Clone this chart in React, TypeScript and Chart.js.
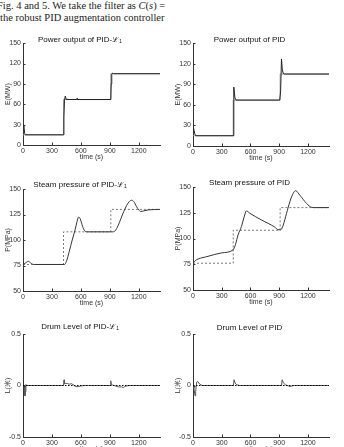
import React, { useEffect, useRef } from "react";
import { Chart, registerables } from "chart.js";

Chart.register(...registerables);

const FONT = "'Liberation Sans', Arial, Helvetica, sans-serif";

// ---------- data ----------
const xTicks = [0, 300, 600, 900, 1200];
const powerTicks = [0, 30, 60, 90, 120, 150];
const pressureTicks = [50, 75, 100, 125, 150];
const levelTicks = [-0.5, 0, 0.5];

const setTime = [0, 420, 420, 910, 910, 1420];
const powerSet = [15, 15, 67, 67, 105, 105];
const pressureSet = [76, 76, 108, 108, 130, 130];
const levelSetTime = [0, 1420];
const levelSet = [0, 0];

const powerL1Time = [0, 10, 18, 24, 420, 424, 430, 438, 446, 456, 555, 560, 566, 910, 914, 920, 928, 940, 1420];
const powerL1 = [28, 27, 17, 15, 15, 40, 66, 72, 68, 67, 67, 68.5, 67, 67, 90, 104, 106, 105, 105];

const powerPidTime = [0, 8, 18, 28, 418, 424, 428, 438, 450, 905, 915, 924, 932, 942, 955, 1420];
const powerPid = [30, 30, 18, 15, 15, 60, 86, 70, 67, 67, 80, 127, 112, 106, 105, 105];

const pressureL1Time = [0, 20, 40, 58, 80, 110, 430, 450, 480, 510, 540, 560, 576, 592, 612, 632, 660, 700, 930, 955, 985, 1015, 1045, 1075, 1100, 1125, 1150, 1175, 1200, 1220, 1250, 1300, 1420];
const pressureL1 = [76, 77, 78.5, 79, 77.5, 76, 76, 79, 89, 100, 110, 118, 122.5, 121, 115, 110, 108, 108, 108, 109, 114, 121, 128, 134, 137.5, 139, 137.5, 133, 129.5, 128, 128.5, 129.5, 130];

const pressurePidTime = [0, 24, 52, 157, 297, 419, 443, 471, 506, 534, 558, 593, 715, 855, 889, 917, 942, 977, 1012, 1047, 1071, 1116, 1186, 1238, 1273, 1420];
const pressurePid = [76, 78.5, 80, 82.7, 86, 89, 94, 103.6, 111.7, 121, 126.8, 124.5, 118, 111, 108.5, 108.5, 113, 124.5, 136, 144, 146.4, 142, 134, 130.3, 130, 130];

const levelL1Time = [0, 15, 20, 25, 30, 40, 420, 425, 430, 440, 460, 480, 500, 520, 540, 560, 580, 600, 640, 680, 905, 910, 915, 925, 945, 975, 1000, 1020, 1040, 1060, 1100, 1420];
const levelL1 = [0, 0, -0.1, -0.06, 0.01, 0, 0, 0.055, 0.015, 0.02, 0.02, 0.012, 0.018, 0.008, -0.008, -0.012, -0.01, -0.004, 0, 0, 0, 0.045, 0.01, 0.005, 0, -0.01, -0.015, -0.012, -0.02, -0.008, 0, 0];

const levelPidTime = [0, 10, 21, 28, 38, 49, 70, 94, 422, 429, 440, 457, 488, 924, 931, 945, 966, 1012, 1036, 1064, 1420];
const levelPid = [0, -0.026, -0.1, -0.06, 0.033, 0.04, 0.013, 0, 0, 0.056, 0.023, 0.007, 0, 0, 0.056, 0.023, 0.007, -0.01, -0.003, 0, 0];

// ---------- helpers ----------
const pts = (t: number[], v: number[]) => t.map((x, i) => ({ x, y: v[i] }));

type Series = { t: number[]; v: number[]; color: string; dash?: number[]; smooth?: boolean; width?: number };
type PanelSpec = {
  title: string;
  yLabel: string;
  left: number;
  width: number;
  chartRight: number;
  chartTop: number;
  chartBottom: number;
  titlePad: number;
  yMin: number;
  yMax: number;
  yTicks: number[];
  series: Series[];
};

const inwardTicks = {
  id: "inwardTicks",
  afterDraw(chart: any) {
    const { ctx, chartArea, scales } = chart;
    ctx.save();
    ctx.strokeStyle = "#333";
    ctx.lineWidth = 1;
    ctx.beginPath();
    for (const t of scales.x.ticks) {
      const px = Math.round(scales.x.getPixelForValue(t.value)) + 0.5;
      ctx.moveTo(px, chartArea.bottom);
      ctx.lineTo(px, chartArea.bottom - 2.5);
    }
    for (const t of scales.y.ticks) {
      const py = Math.round(scales.y.getPixelForValue(t.value)) + 0.5;
      ctx.moveTo(chartArea.left, py);
      ctx.lineTo(chartArea.left + 2.5, py);
    }
    ctx.stroke();
    ctx.restore();
  },
};

function Panel({ p }: { p: PanelSpec }) {
  const ref = useRef<HTMLCanvasElement>(null);
  const canvasTop = p.chartTop - 6 - p.titlePad;
  const xAxisH = 16;
  const height = p.chartBottom - canvasTop + xAxisH;
  useEffect(() => {
    const chart = new Chart(ref.current as HTMLCanvasElement, {
      type: "line",
      data: {
        datasets: p.series.map((s) => ({
          data: pts(s.t, s.v),
          borderColor: s.color,
          borderWidth: s.width ?? 1,
          borderDash: s.dash ?? [],
          pointRadius: 0,
          fill: false,
          tension: 0,
          cubicInterpolationMode: s.smooth ? "monotone" : "default",
        })),
      },
      options: {
        animation: false,
        responsive: false,
        devicePixelRatio: 1,
        events: [],
        layout: { padding: { left: 0, top: 0, bottom: 0, right: p.width - (p.chartRight - p.left) } },
        plugins: {
          legend: { display: false },
          tooltip: { enabled: false },
          title: {
            display: true,
            text: p.title,
            color: "#111",
            font: { family: FONT, size: 8, weight: "normal", lineHeight: 0.75 },
            padding: { top: 0, bottom: p.titlePad },
          },
        },
        scales: {
          x: {
            type: "linear",
            min: 0,
            max: 1420,
            afterBuildTicks: (s: any) => {
              s.ticks = xTicks.map((v) => ({ value: v }));
            },
            afterFit: (s: any) => {
              s.height = xAxisH;
            },
            grid: { display: true, drawOnChartArea: false, drawTicks: false },
            border: { display: true, color: "#333", width: 1 },
            ticks: {
              font: { family: FONT, size: 7 },
              color: "#333",
              padding: 2,
              maxRotation: 0,
              autoSkip: false,
              callback: (v: any) => String(v),
            },
            title: { display: true, text: "time (s)", font: { family: FONT, size: 7 }, color: "#333", padding: { top: 0, bottom: 0 } },
          },
          y: {
            type: "linear",
            min: p.yMin,
            max: p.yMax,
            afterBuildTicks: (s: any) => {
              s.ticks = p.yTicks.map((v) => ({ value: v }));
            },
            afterFit: (s: any) => {
              s.width = 23;
            },
            grid: { display: true, drawOnChartArea: false, drawTicks: false },
            border: { display: true, color: "#333", width: 1 },
            ticks: { font: { family: FONT, size: 7 }, color: "#333", padding: 2, autoSkip: false, callback: (v: any) => String(v) },
            title: { display: true, text: p.yLabel, font: { family: FONT, size: 7 }, color: "#333", padding: { top: 4, bottom: 0 } },
          },
        },
      } as any,
      plugins: [inwardTicks],
    });
    return () => chart.destroy();
  }, []);
  return (
    <canvas
      ref={ref}
      width={p.width}
      height={height}
      style={{ position: "absolute", left: p.left, top: canvasTop, width: p.width, height }}
    />
  );
}

const GRAY = "#9a9a9a";
const DARK = "#222";

const panels: PanelSpec[] = [
  {
    title: "Power output of PID-ℒ₁",
    yLabel: "E(MW)",
    left: 0, width: 200, chartRight: 160, chartTop: 43, chartBottom: 145, titlePad: 0,
    yMin: 0, yMax: 150, yTicks: powerTicks,
    series: [
      { t: powerL1Time, v: powerL1, color: DARK },
      { t: setTime, v: powerSet, color: GRAY },
    ],
  },
  {
    title: "Power output of PID",
    yLabel: "E(MW)",
    left: 170, width: 192, chartRight: 329, chartTop: 43, chartBottom: 146, titlePad: 0,
    yMin: 0, yMax: 150, yTicks: powerTicks,
    series: [
      { t: powerPidTime, v: powerPid, color: DARK },
      { t: setTime, v: powerSet, color: GRAY },
    ],
  },
  {
    title: "Steam pressure of PID-ℒ₁",
    yLabel: "P(MPa)",
    left: 0, width: 200, chartRight: 160, chartTop: 189, chartBottom: 291, titlePad: 1,
    yMin: 50, yMax: 150, yTicks: pressureTicks,
    series: [
      { t: pressureL1Time, v: pressureL1, color: "#333", smooth: true },
      { t: setTime, v: pressureSet, color: "#555", dash: [2, 2], width: 0.8 },
    ],
  },
  {
    title: "Steam pressure of PID",
    yLabel: "P(MPa)",
    left: 170, width: 192, chartRight: 329, chartTop: 187, chartBottom: 290, titlePad: 1,
    yMin: 50, yMax: 150, yTicks: pressureTicks,
    series: [
      { t: pressurePidTime, v: pressurePid, color: "#333", smooth: true },
      { t: setTime, v: pressureSet, color: "#555", dash: [2, 2], width: 0.8 },
    ],
  },
  {
    title: "Drum Level of PID-ℒ₁",
    yLabel: "L(米)",
    left: 0, width: 200, chartRight: 160, chartTop: 334, chartBottom: 437, titlePad: 4,
    yMin: -0.5, yMax: 0.5, yTicks: levelTicks,
    series: [
      { t: levelSetTime, v: levelSet, color: "#000", dash: [1.5, 1.5] },
      { t: levelL1Time, v: levelL1, color: "#555" },
    ],
  },
  {
    title: "Drum Level of PID",
    yLabel: "L(米)",
    left: 170, width: 192, chartRight: 329, chartTop: 334, chartBottom: 437, titlePad: 3,
    yMin: -0.5, yMax: 0.5, yTicks: levelTicks,
    series: [
      { t: levelSetTime, v: levelSet, color: "#000", dash: [1.5, 1.5] },
      { t: levelPidTime, v: levelPid, color: "#555" },
    ],
  },
];

export default function App() {
  const serif = "'Liberation Serif', 'Times New Roman', serif";
  return (
    <div
      style={{
        position: "absolute",
        left: 0,
        top: 0,
        width: 344,
        height: 447,
        overflow: "hidden",
        background: "#fff",
      }}
    >
      <div style={{ position: "absolute", left: -3, top: 0, fontFamily: serif, fontSize: 10.5, lineHeight: "11.5px", color: "#222", whiteSpace: "nowrap" }}>
        <div>
          Fig. 4 and 5. We take the filter as <i>C</i>(<i>s</i>) =
        </div>
        <div style={{ marginLeft: 3 }}>the robust PID augmentation controller</div>
      </div>
      {panels.map((p, i) => (
        <Panel key={i} p={p} />
      ))}
    </div>
  );
}
